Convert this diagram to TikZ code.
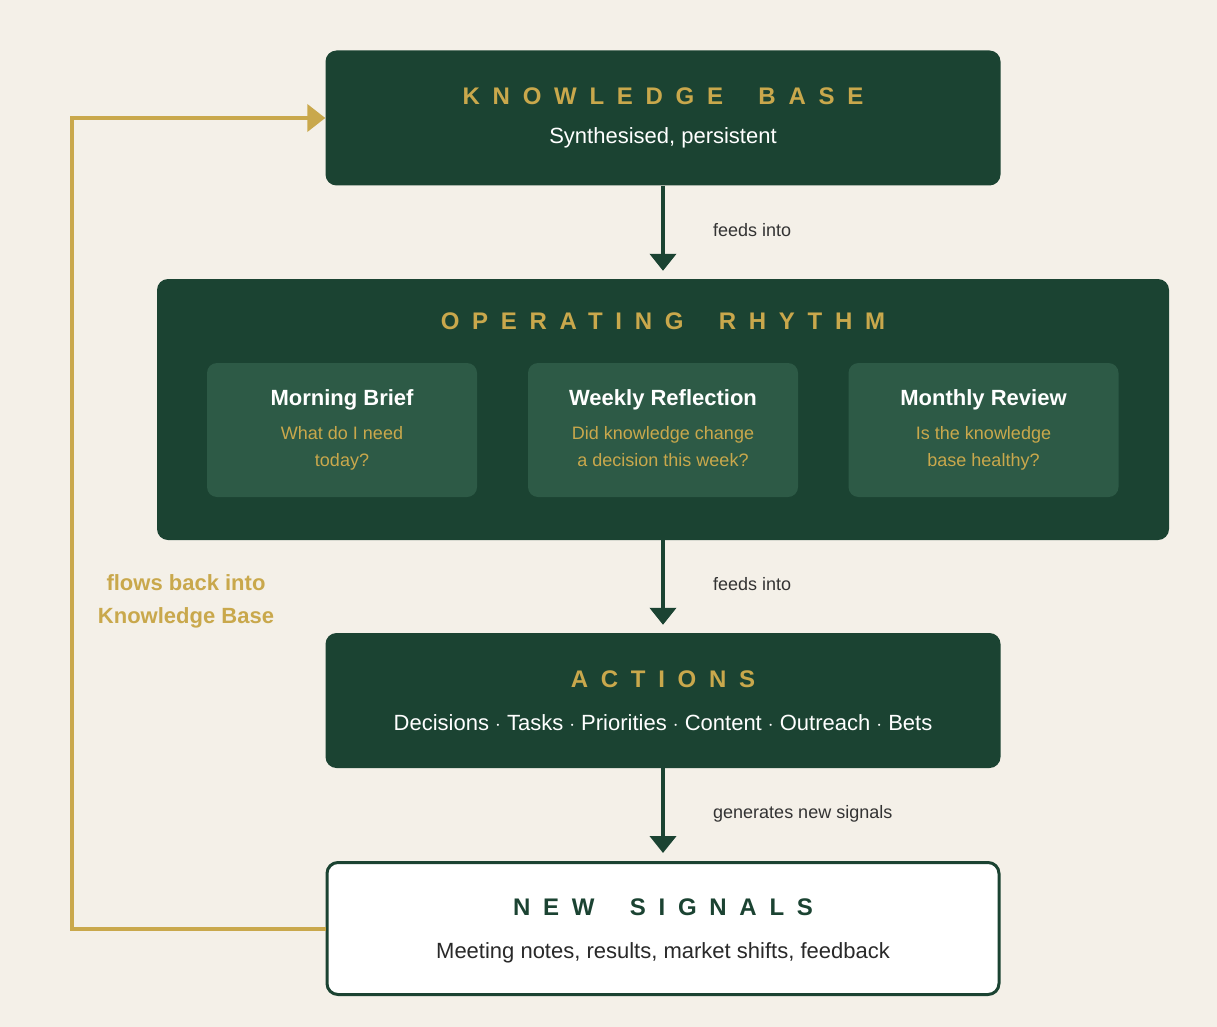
\documentclass[tikz,border=0pt]{standalone}
\usepackage{fontspec}
\setmainfont{Liberation Sans}
\usetikzlibrary{arrows.meta}

\definecolor{pine}{HTML}{1B4332}
\definecolor{moss}{HTML}{2D5A46}
\definecolor{ochre}{HTML}{C9A84C}
\definecolor{paper}{HTML}{F4F0E8}
\definecolor{ink}{HTML}{333333}

\newcommand{\spaced}[1]{{\addfontfeatures{LetterSpace=53}#1}}
\newcommand{\wordgap}{\hspace{16pt}}

\tikzset{
  panel/.style={fill=pine,rounded corners=11pt,inner sep=0pt},
  card/.style={fill=moss,rounded corners=10pt,inner sep=0pt,minimum width=270pt,minimum height=134pt},
  heading/.style={anchor=base,inner sep=0pt,text=ochre,font=\fontsize{24}{29}\selectfont\bfseries},
  subline/.style={anchor=base,inner sep=0pt,text=white,font=\fontsize{22}{26}\selectfont},
  cardtitle/.style={anchor=base,inner sep=0pt,text=white,font=\fontsize{22}{26}\selectfont\bfseries},
  question/.style={anchor=base,inner sep=0pt,align=center,text=ochre,font=\fontsize{18}{27}\selectfont},
  edgelabel/.style={anchor=base west,inner sep=0pt,text=ink,font=\fontsize{18}{22}\selectfont},
  flow/.style={-{Triangle[length=17pt,width=26pt]},line width=4pt,draw=pine,shorten >=8pt},
  loopback/.style={-{Triangle[length=18pt,width=27pt]},line width=4pt,draw=ochre}
}

\begin{document}
\begin{tikzpicture}[x=1pt,y=-1pt]
  \fill[paper] (0,0) rectangle (1217,1027);

  % knowledge base
  \node[panel,minimum width=675pt,minimum height=135pt] (kb) at (663,118) {};
  \node[heading] (kbtitle) at (663,105) {\spaced{KNOWLEDGE \wordgap BASE}};
  \node[subline] (kbtext) at (663,144) {Synthesised, persistent};

  % operating rhythm
  \node[panel,minimum width=1012pt,minimum height=261pt] (rhythm) at (663,409.5) {};
  \node[heading] (rhythmtitle) at (663,329) {\spaced{OPERATING \wordgap RHYTHM}};

  % the three cards (multi-line text sits on its last baseline)
  \node[card] (morning) at (342,430) {};
  \node[cardtitle] (morningtitle) at (342,405) {Morning Brief};
  \node[question] (morningq) at (342,466) {What do I need\\today?};

  \node[card] (weekly) at (663,430) {};
  \node[cardtitle] (weeklytitle) at (663,405) {Weekly Reflection};
  \node[question] (weeklyq) at (663,466) {Did knowledge change\\a decision this week?};

  \node[card] (monthly) at (983.5,430) {};
  \node[cardtitle] (monthlytitle) at (983.5,405) {Monthly Review};
  \node[question] (monthlyq) at (983.5,466) {Is the knowledge\\base healthy?};

  % actions
  \node[panel,minimum width=675pt,minimum height=135pt] (actions) at (663,700.5) {};
  \node[heading] (actionstitle) at (663,687) {\spaced{ACTIONS}};
  \node[subline] (actionstext) at (663,730) {Decisions $\cdot$ Tasks $\cdot$ Priorities $\cdot$ Content $\cdot$ Outreach $\cdot$ Bets};

  % new signals
  \node[draw=pine,line width=3pt,fill=white,rounded corners=11pt,
        minimum width=672pt,minimum height=132pt,inner sep=0pt] (signals) at (663,928.5) {};
  \node[heading,text=pine] (signalstitle) at (663,915) {\spaced{NEW \wordgap SIGNALS}};
  \node[subline,text=ink!80!black] (signalstext) at (663,958) {Meeting notes, results, market shifts, feedback};

  % connectors
  \draw[flow] (kb.south) -- (rhythm.north);
  \draw[flow] (rhythm.south) -- (actions.north);
  \draw[flow] (actions.south) -- (signals.north);
  \node[edgelabel] (lbl1) at (713,236) {feeds into};
  \node[edgelabel] (lbl2) at (713,590) {feeds into};
  \node[edgelabel] (lbl3) at (713,818) {generates new signals};

  \coordinate (corner) at (72,928.5);
  \draw[loopback] (signals.west) -- (corner) |- (kb.west);
  \node[anchor=base,inner sep=0pt,align=center,text=ochre,
        font=\fontsize{22}{33}\selectfont\bfseries] (backlbl) at (186,623) {flows back into\\Knowledge Base};
\end{tikzpicture}
\end{document}
